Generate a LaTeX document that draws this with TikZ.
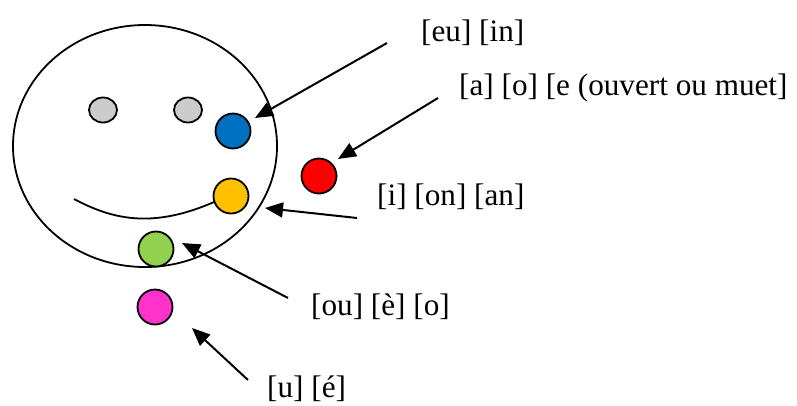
\documentclass[tikz,border=0pt]{standalone}
\usepackage{fontspec}
\setmainfont{Liberation Serif}
\usetikzlibrary{arrows.meta,shapes.geometric}
\definecolor{eyegray}{RGB}{204,204,204}
\definecolor{cblue}{RGB}{0,112,192}
\definecolor{cyellow}{RGB}{255,192,0}
\definecolor{cgreen}{RGB}{146,208,80}
\definecolor{cpink}{RGB}{255,51,204}
\definecolor{cred}{RGB}{255,0,0}
\tikzset{
  dot/.style={circle, draw=black, line width=1.8pt, minimum size=35pt, inner sep=0pt},
  eye/.style={ellipse, draw=black, line width=1.8pt, fill=eyegray, minimum width=28pt, minimum height=25pt, inner sep=0pt},
  lbl/.style={anchor=west, inner sep=0pt, font=\fontsize{31.2}{36}\selectfont},
  ptr/.style={-{Triangle[length=18pt,width=15pt]}, line width=2pt},
}
\begin{document}
\begin{tikzpicture}[x=1pt,y=-1pt]
\useasboundingbox (0,0) rectangle (797,405);
% face
\draw[line width=1.8pt] (145,146) ellipse [x radius=132, y radius=121];
\node[eye] (eyeL) at (103,110) {};
\node[eye] (eyeR) at (188,110) {};
% smile
\draw[line width=1.8pt] (74,199) .. controls (110,218) and (150,230) .. (214,202);
% dots
\node[dot, fill=cblue] (blue) at (233,131) {};
\node[dot, fill=cyellow] (yellow) at (231,196) {};
\node[dot, fill=cgreen] (green) at (156,249) {};
\node[dot, fill=cpink] (pink) at (155,307) {};
\node[dot, fill=cred] (red) at (319,176) {};
% labels
\node[lbl] (l1) at (421,33) {[eu] [in]};
\node[lbl] (l2) at (459,88) {[a] [o] [e (ouvert ou muet]};
\node[lbl] (l3) at (377,197) {[i] [on] [an]};
\node[lbl] (l4) at (311,307) {[ou] [è] [o]};
\node[lbl] (l5) at (267,389) {[u] [é]};
% arrow ends
\coordinate (s1) at (387,43);  \coordinate (t1) at (255,118);
\coordinate (s2) at (438,98);  \coordinate (t2) at (338,159);
\coordinate (s3) at (357,218); \coordinate (t3) at (265,208);
\coordinate (s4) at (288,298); \coordinate (t4) at (182,243);
\coordinate (s5) at (248,380); \coordinate (t5) at (192,328);
\draw[ptr] (s1) -- (t1);
\draw[ptr] (s2) -- (t2);
\draw[ptr] (s3) -- (t3);
\draw[ptr] (s4) -- (t4);
\draw[ptr] (s5) -- (t5);
\end{tikzpicture}
\end{document}
